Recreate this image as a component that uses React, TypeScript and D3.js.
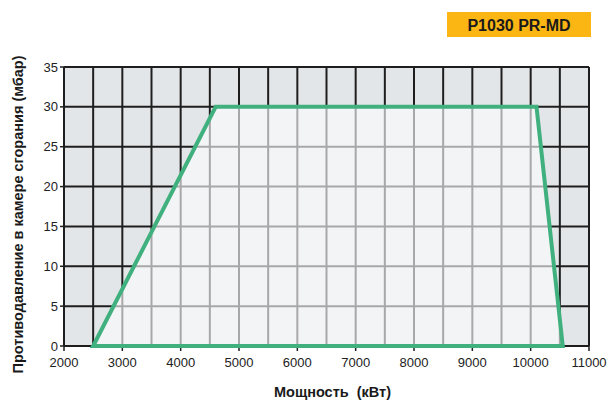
import React from "react";
import * as d3 from "d3";

// Diagram data
const xTicks = [2000, 3000, 4000, 5000, 6000, 7000, 8000, 9000, 10000, 11000];
const yTicks = [0, 5, 10, 15, 20, 25, 30, 35];
const rangePower = [2500, 4600, 10100, 10550]; // кВт
const rangePressure = [0, 30, 30, 0]; // мбар
const title = "P1030 PR-MD";
const xTitle = "Мощность  (кВт)";
const yTitle = "Противодавление в камере сгорания (мбар)";

const App: React.FC = () => {
  const width = 608;
  const height = 404;
  const left = 64;
  const right = 589;
  const top = 67;
  const bottom = 346;

  const x = d3.scaleLinear().domain([2000, 11000]).range([left, right]);
  const y = d3.scaleLinear().domain([0, 35]).range([bottom, top]);

  // sotto-griglia ogni 500
  const xGrid = d3.range(2000, 11001, 500);
  const yGrid = yTicks;

  const pts: [number, number][] = rangePower.map((p, i) => [x(p), y(rangePressure[i])]);
  const poly = d3.line()(pts.concat([pts[0]])) + "Z";

  const font = "'Liberation Sans', Arial, sans-serif";

  const grid = (stroke: string, sw: number) => (
    <g stroke={stroke} strokeWidth={sw}>
      {xGrid.map((v) => (
        <line key={"x" + v} x1={x(v)} x2={x(v)} y1={top} y2={bottom} />
      ))}
      {yGrid.map((v) => (
        <line key={"y" + v} x1={left} x2={right} y1={y(v)} y2={y(v)} />
      ))}
    </g>
  );

  return (
    <svg width={width} height={height} style={{ position: "absolute", left: 0, top: 0 }}>
      <defs>
        <clipPath id="inside">
          <path d={poly} />
        </clipPath>
      </defs>
      <rect width={width} height={height} fill="#fff" />

      {/* badge */}
      <rect x={447} y={12} width={144} height={25} fill="#fbb614" />
      <text x={519} y={30.5} textAnchor="middle" fontFamily={font} fontWeight="bold" fontSize={16} fill="#1a1a1a">
        {title}
      </text>

      {/* plot area */}
      <rect x={left} y={top} width={right - left} height={bottom - top} fill="#e3e6e9" />
      {grid("#1e1e1e", 2)}
      <path d={poly} fill="#f3f4f6" />
      <g clipPath="url(#inside)">{grid("#a8a8a8", 2)}</g>

      {/* axes */}
      <line x1={left} x2={right} y1={bottom} y2={bottom} stroke="#1e1e1e" strokeWidth={2} />
      <line x1={left} x2={left} y1={top} y2={bottom} stroke="#1e1e1e" strokeWidth={2} />
      {xTicks.map((v) => (
        <g key={v}>
          <line x1={x(v)} x2={x(v)} y1={bottom} y2={bottom + 5} stroke="#1e1e1e" strokeWidth={1.5} />
          <text x={x(v)} y={bottom + 21} textAnchor="middle" fontFamily={font} fontSize={13} fill="#222">
            {v}
          </text>
        </g>
      ))}
      {yTicks.map((v) => (
        <g key={v}>
          <line x1={left - 4} x2={left} y1={y(v)} y2={y(v)} stroke="#1e1e1e" strokeWidth={1.5} />
          <text x={left - 6} y={y(v) + 4.5} textAnchor="end" fontFamily={font} fontSize={13} fill="#222">
            {v}
          </text>
        </g>
      ))}

      {/* range outline */}
      <path d={poly} fill="none" stroke="#41b07f" strokeWidth={4} strokeLinejoin="miter" />

      {/* titles */}
      <text
        x={(left + right) / 2 + 6}
        y={397}
        textAnchor="middle"
        fontFamily={font}
        fontWeight="bold"
        fontSize={14.5}
        fill="#1a1a1a"
        style={{ whiteSpace: "pre" }}
      >
        {xTitle}
      </text>
      <text
        transform={`translate(23, ${(top + bottom) / 2 + 8}) rotate(-90)`}
        textAnchor="middle"
        fontFamily={font}
        fontWeight="bold"
        fontSize={14.5}
        fill="#1a1a1a"
      >
        {yTitle}
      </text>
    </svg>
  );
};

export default App;
